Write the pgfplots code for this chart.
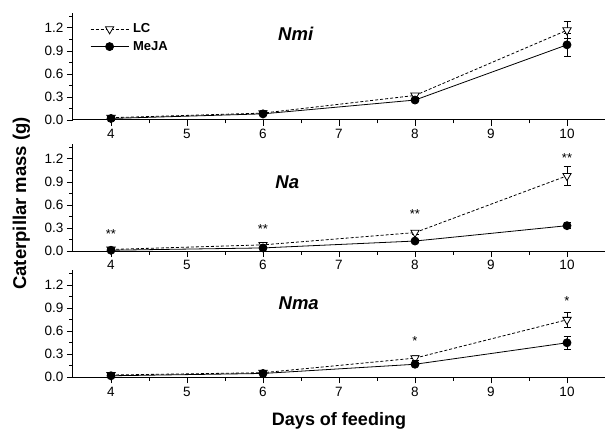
\documentclass[border=0pt]{standalone}
\usepackage{pgfplots}
\pgfplotsset{compat=1.18}
\usepackage{fontspec}
\setmainfont{Liberation Sans}
\newcommand{\fs}[1]{\fontsize{#1}{#1}\selectfont}
\pgfplotsset{
  panel/.style={
    scale only axis, width=532pt, height=107.4pt,
    xmin=3.5, xmax=10.5, ymin=0, ymax=1.4,
    axis x line*=bottom, axis y line*=left,
    xtick={4,5,6,7,8,9,10}, minor xtick={4.5,5.5,6.5,7.5,8.5,9.5},
    ytick={0,0.3,0.6,0.9,1.2}, minor ytick={0.15,0.45,0.75,1.05,1.35},
    tick align=outside, major tick length=6pt, minor tick length=3.5pt,
    /pgf/number format/assume math mode=true,
    yticklabel style={/pgf/number format/.cd,fixed,fixed zerofill,precision=1},
    tick label style={font=\fs{13.5}},
    axis line style={line width=1pt},
    every tick/.style={line width=0.9pt, black},
    clip=false,
    anchor=south west,
  },
  lc/.style={black, line width=0.8pt, dash pattern=on 3pt off 2pt,
    mark=triangle*, mark size=4.8pt, mark options={solid, rotate=180, fill=white, line width=0.8pt},
    error bars/.cd, y dir=both, y explicit,
    error bar style={solid, line width=0.8pt},
    error mark options={rotate=90, mark size=3.5pt, line width=0.8pt, solid}},
  mj/.style={black, line width=0.8pt, solid,
    mark=*, mark size=4pt, mark options={solid, fill=black},
    error bars/.cd, y dir=both, y explicit,
    error bar style={solid, line width=0.8pt},
    error mark options={rotate=90, mark size=3.5pt, line width=0.8pt, solid}},
}
\begin{document}
\begin{tikzpicture}
\path[use as bounding box] (0pt,0pt) rectangle (605pt,429pt);
% Panel 1: Nmi
\begin{axis}[panel, at={(73pt,309pt)},
  legend style={at={(axis cs:3.5,1.4)}, anchor=north west, xshift=17pt, yshift=-10pt,
    draw=none, fill=none, inner sep=0pt, font=\fs{13}\bfseries,
    row sep=5pt, nodes={inner sep=1pt},
    /tikz/every odd column/.style={column sep=3pt}},
  legend cell align=left,
  legend image code/.code={\draw[mark repeat=2,mark phase=2,#1] plot coordinates {(0pt,0pt) (19pt,0pt) (38pt,0pt)};}]
\addplot+[lc] table[x=x,y=y,y error=e] {
x y e
4 0.03 0.02
6 0.09 0.03
8 0.32 0.03
10 1.17 0.11
};
\addlegendentry{LC}
\addplot+[mj] table[x=x,y=y,y error=e] {
x y e
4 0.02 0.02
6 0.08 0.02
8 0.26 0.02
10 0.98 0.15
};
\addlegendentry{MeJA}
\node[font=\fs{18.5}\bfseries\itshape] at (axis cs:6.43,1.13) {Nmi};
\end{axis}
% Panel 2: Na
\begin{axis}[panel, at={(73pt,178pt)}]
\addplot+[lc] table[x=x,y=y,y error=e] {
x y e
4 0.02 0.01
6 0.08 0.02
8 0.24 0.03
10 0.98 0.12
};
\addplot+[mj] table[x=x,y=y,y error=e] {
x y e
4 0.01 0.01
6 0.04 0.01
8 0.13 0.02
10 0.33 0.04
};
\node[font=\fs{18.5}\bfseries\itshape] at (axis cs:6.32,0.89) {Na};
\node[font=\fs{13}, yshift=-2.5pt] at (axis cs:4,0.25) {**};
\node[font=\fs{13}, yshift=-2.5pt] at (axis cs:6,0.32) {**};
\node[font=\fs{13}, yshift=-2.5pt] at (axis cs:8,0.51) {**};
\node[font=\fs{13}, yshift=-2.5pt] at (axis cs:10,1.25) {**};
\end{axis}
% Panel 3: Nma
\begin{axis}[panel, at={(73pt,51.7pt)}]
\addplot+[lc] table[x=x,y=y,y error=e] {
x y e
4 0.03 0.02
6 0.06 0.02
8 0.25 0.03
10 0.75 0.10
};
\addplot+[mj] table[x=x,y=y,y error=e] {
x y e
4 0.02 0.01
6 0.05 0.01
8 0.17 0.02
10 0.45 0.08
};
\node[font=\fs{18.5}\bfseries\itshape] at (axis cs:6.47,0.96) {Nma};
\node[font=\fs{13}, yshift=-2.5pt] at (axis cs:8,0.51) {*};
\node[font=\fs{13}, yshift=-2.5pt] at (axis cs:10,1.03) {*};
\end{axis}
\node[font=\fs{18}\bfseries, anchor=base] at (339pt,4pt) {Days of feeding};
\node[font=\fs{18.5}\bfseries, rotate=90, anchor=base] at (26pt,225.7pt) {Caterpillar mass (g)};
\end{tikzpicture}
\end{document}
